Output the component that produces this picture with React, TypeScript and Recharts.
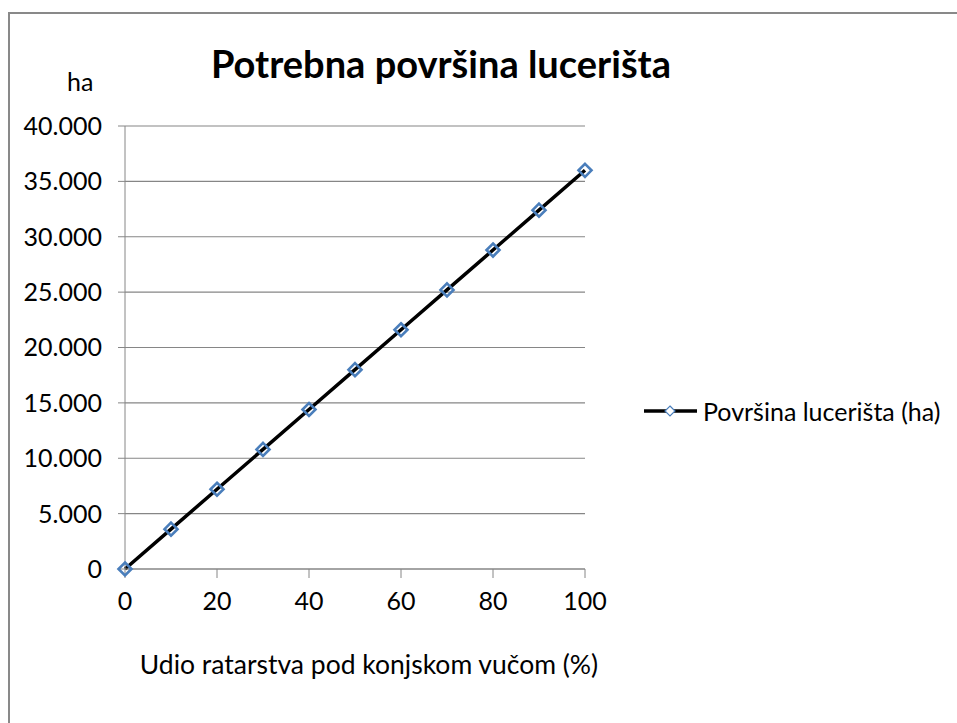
import { LineChart, Line, XAxis, YAxis, CartesianGrid, Legend, Label } from "recharts";

const shares = [0, 10, 20, 30, 40, 50, 60, 70, 80, 90, 100];
const areaHa = [0, 3600, 7200, 10800, 14400, 18000, 21600, 25200, 28800, 32400, 36000];
const xTicks = [0, 20, 40, 60, 80, 100];
const yTicks = [0, 5000, 10000, 15000, 20000, 25000, 30000, 35000, 40000];

const seriesName = "Površina lucerišta (ha)";
const chartTitle = "Potrebna površina lucerišta";
const xTitle = "Udio ratarstva pod konjskom vučom (%)";
const yUnit = "ha";

const data = shares.map((s, i) => ({ share: s, area: areaHa[i] }));

const FONT = "Lato, 'DejaVu Sans', sans-serif";
const GRID = "#868686";
const MARKER = "#4a7ebb";

const fmt = (v: number) => String(v).replace(/\B(?=(\d{3})+(?!\d))/g, ".");

const Diamond = (props: any) => {
  const { cx, cy, index } = props;
  if (cx == null || cy == null) return null;
  const r = 6.5;
  return (
    <polygon
      key={index}
      points={`${cx},${cy - r} ${cx + r},${cy} ${cx},${cy + r} ${cx - r},${cy}`}
      fill="none"
      stroke={MARKER}
      strokeWidth={2.6}
    />
  );
};

const LegendBox = () => (
  <div style={{ display: "flex", alignItems: "center", fontFamily: FONT, fontSize: 25, color: "#000" }}>
    <svg width={56} height={20} style={{ marginRight: 4 }}>
      <line x1={1} y1={10} x2={54} y2={10} stroke="#000" strokeWidth={3.5} />
      <polygon points="27,5 32,10 27,15 22,10" fill="#fff" stroke={MARKER} strokeWidth={1.2} />
    </svg>
    <span>{seriesName}</span>
  </div>
);

const App = () => {
  return (
    <div style={{ position: "fixed", left: 0, top: 0, width: 957, height: 723, overflow: "hidden", background: "#fff" }}>
      <div
        style={{
          position: "absolute",
          left: 8,
          top: 12,
          width: 1000,
          height: 800,
          borderLeft: "2px solid #898989",
          borderTop: "2px solid #898989",
        }}
      />
      <div
        style={{
          position: "absolute",
          left: 141,
          width: 600,
          top: 40,
          textAlign: "center",
          fontFamily: FONT,
          fontWeight: 700,
          fontSize: 38,
          color: "#000",
        }}
      >
        {chartTitle}
      </div>
      <div style={{ position: "absolute", left: 67, top: 66, fontFamily: FONT, fontSize: 25, color: "#000" }}>
        {yUnit}
      </div>
      <div style={{ position: "absolute", left: 0, top: 0 }}>
        <LineChart width={957} height={723} data={data} margin={{ top: 126, left: 25, right: 372, bottom: 0 }}>
          <CartesianGrid vertical={false} stroke={GRID} strokeWidth={1.2} />
          <XAxis
            dataKey="share"
            type="number"
            domain={[0, 100]}
            ticks={xTicks}
            height={154}
            tickSize={9}
            tickMargin={14}
            stroke={GRID}
            tick={{ fill: "#000", fontSize: 25, fontFamily: FONT }}
          >
            <Label value={xTitle} position="insideTop" offset={86} dx={14} fill="#000" fontSize={26.5} fontFamily={FONT} />
          </XAxis>
          <YAxis
            type="number"
            domain={[0, 40000]}
            ticks={yTicks}
            width={100}
            tickSize={7}
            tickMargin={16}
            stroke={GRID}
            tickFormatter={fmt}
            tick={{ fill: "#000", fontSize: 25, fontFamily: FONT }}
          />
          <Legend
            layout="horizontal"
            verticalAlign="middle"
            align="center"
            content={() => <LegendBox />}
            wrapperStyle={{ position: "absolute", left: 643, top: 396, width: 314 }}
          />
          <Line
            dataKey="area"
            name={seriesName}
            stroke="#000"
            strokeWidth={3.5}
            dot={Diamond}
            activeDot={false}
            isAnimationActive={false}
          />
        </LineChart>
      </div>
    </div>
  );
};

export default App;
